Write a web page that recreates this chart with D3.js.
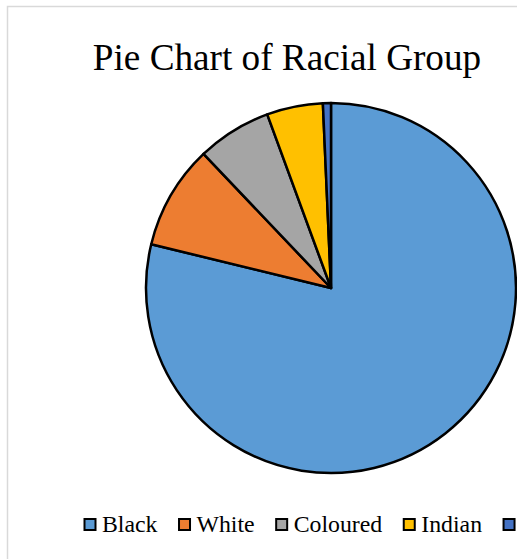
<!DOCTYPE html>
<html>
<head>
<meta charset="utf-8">
<script src="https://cdn.jsdelivr.net/npm/d3@7/dist/d3.min.js"></script>
<style>
  html, body { margin: 0; padding: 0; background: #ffffff; }
  svg { display: block; }
</style>
</head>
<body>
<svg id="chart" width="517" height="559"></svg>
<script>
// Share of population by racial group (%)
const groups = ["Black", "White", "Coloured", "Indian", "Other"];
const shares = [78.8, 9.1, 6.5, 4.9, 0.7];
const colours = ["#5B9BD5", "#ED7D31", "#A5A5A5", "#FFC000", "#4472C4"];
const title = "Pie Chart of Racial Group";

const svg = d3.select("#chart");
const W = 517, H = 559;
const serif = "'Liberation Serif', 'Times New Roman', Times, serif";

// chart area frame
svg.append("rect")
  .attr("x", 7.5).attr("y", 6.5)
  .attr("width", W + 20).attr("height", H + 20)
  .attr("fill", "#ffffff")
  .attr("stroke", "#d9d9d9")
  .attr("stroke-width", 1.5);

// title
svg.append("text")
  .attr("x", 287).attr("y", 70)
  .attr("text-anchor", "middle")
  .attr("font-family", serif)
  .attr("font-size", 37.2)
  .attr("fill", "#000")
  .text(title);

// pie
const cx = 331, cy = 288, r = 185;
const color = d3.scaleOrdinal().domain(groups).range(colours);
const pie = d3.pie().sort(null).value(d => d.value);
const arc = d3.arc().innerRadius(0).outerRadius(r);
const data = groups.map((g, i) => ({ group: g, value: shares[i] }));

svg.append("g")
  .attr("transform", `translate(${cx},${cy})`)
  .selectAll("path")
  .data(pie(data))
  .join("path")
  .attr("d", arc)
  .attr("fill", d => color(d.data.group))
  .attr("stroke", "#000")
  .attr("stroke-width", 2.5)
  .attr("stroke-linejoin", "round");

// legend
const legendFont = 23.8;
const sq = 11;
const legend = svg.append("g");
let x = 84.5;
const baseY = 531.5;
groups.forEach((g, i) => {
  legend.append("rect")
    .attr("x", x).attr("y", baseY - 12.5)
    .attr("width", sq).attr("height", sq)
    .attr("fill", color(g))
    .attr("stroke", "#000")
    .attr("stroke-width", 2);
  const t = legend.append("text")
    .attr("x", x + sq + 6.5).attr("y", baseY)
    .attr("font-family", serif)
    .attr("font-size", legendFont)
    .attr("fill", "#000")
    .text(g);
  x += sq + 6.5 + t.node().getComputedTextLength() + 21.5;
});
</script>
</body>
</html>
